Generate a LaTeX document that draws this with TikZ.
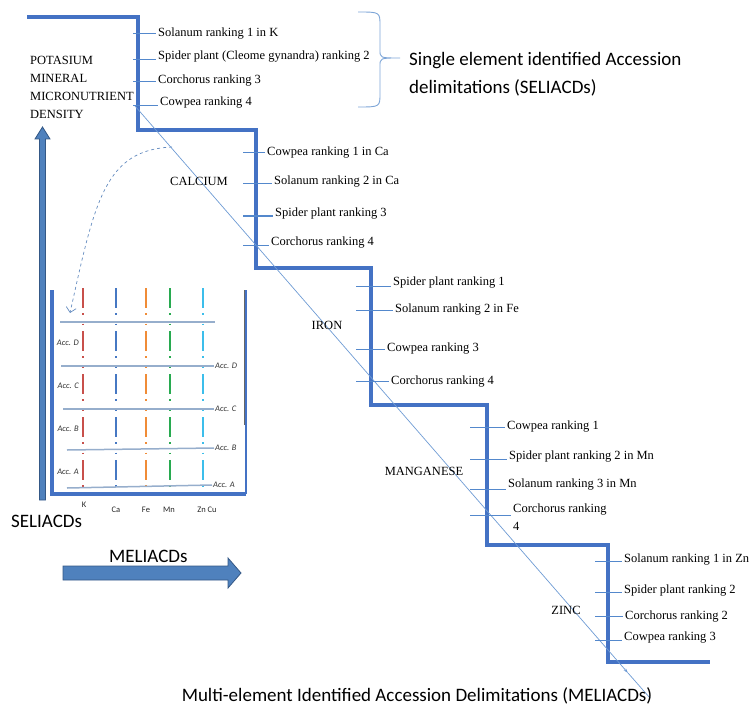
\documentclass[tikz,border=0pt]{standalone}
\usepackage{fontspec}
\setmainfont{Liberation Serif}
\newfontfamily\calibri{Carlito}
\usetikzlibrary{arrows.meta}
\definecolor{stairblue}{RGB}{68,114,196}
\definecolor{tickblue}{RGB}{84,136,204}
\definecolor{diagblue}{RGB}{110,155,212}
\definecolor{braceblue}{RGB}{125,165,215}
\definecolor{accgray}{RGB}{150,174,204}
\definecolor{arrowfill}{RGB}{79,129,189}
\definecolor{arrowedge}{RGB}{52,88,134}
\definecolor{accred}{RGB}{200,80,75}
\definecolor{accblue}{RGB}{70,120,195}
\definecolor{accorange}{RGB}{240,140,55}
\definecolor{accgreen}{RGB}{40,170,80}
\definecolor{acccyan}{RGB}{60,190,235}

\begin{document}
\begin{tikzpicture}[x=1pt,y=-1pt,
  stair/.style={stairblue,line width=3.8pt,line join=miter},
  tick/.style={tickblue,line width=1pt},
  rank/.style={anchor=west,inner sep=2pt,font=\fontsize{12.5}{18}\selectfont},
  elem/.style={inner sep=0pt,font=\fontsize{12.5}{18}\selectfont},
  big/.style={inner sep=0pt,font=\calibri\fontsize{19}{28}\selectfont},
  acc/.style={inner sep=1pt,text=black!80,font=\calibri\itshape\fontsize{8.5}{10}\selectfont},
  axis/.style={inner sep=0pt,text=black!85,font=\calibri\fontsize{8.5}{10}\selectfont},
  accline/.style={accgray,line width=1.5pt},
  elemline/.style={line width=2pt,dash pattern=on 20pt off 5pt on 1.5pt off 9pt on 1.5pt off 6pt},
  blockarrow/.style={fill=arrowfill,draw=arrowedge,line width=0.8pt}]

  \useasboundingbox (0,0) rectangle (751,711);

  % the staircase
  \draw[stair] (27,17) -- (138,17) -- (138,130) -- (256,130) -- (256,268)
    -- (371,268) -- (371,405) -- (487,405) -- (487,545) -- (608,545)
    -- (608,662) -- (710,662);

  % diagonal through the steps
  \coordinate (dstart) at (135,106);
  \coordinate (dtip) at (628,673);
  \coordinate (dend) at (650,698);
  \draw[diagblue,line width=0.7pt,-{Stealth[length=5pt,width=3pt]}] (dstart) -- (dtip);
  \draw[diagblue,line width=0.7pt] (dtip) -- (dend);

  % potassium step
  \node[elem,anchor=north west,align=left] (potasium) at (30,56)
    {POTASIUM\\MINERAL\\MICRONUTRIENT\\DENSITY};
  \foreach \n/\ty/\y/\x/\txt in {k1/34/34/156/{Solanum ranking 1 in K},
      k2/60/57/156/{Spider plant (Cleome gynandra) ranking 2},
      k3/82/81/156/{Corchorus ranking 3},
      k4/106/103/158/{Cowpea ranking 4}}{
    \node[rank] (\n) at (\x,\y) {\txt};
    \coordinate (\n-t) at (133,\ty);
    \draw[tick] (\n-t) -- (\n-t -| \n.west);
  }

  % calcium step
  \node[elem] (calcium) at (199,181) {CALCIUM};
  \foreach \n/\ty/\y/\x/\txt in {ca1/153/153/265/{Cowpea ranking 1 in Ca},
      ca2/184/182/272/{Solanum ranking 2 in Ca},
      ca3/216/214/273/{Spider plant ranking 3},
      ca4/245/243/269/{Corchorus ranking 4}}{
    \node[rank] (\n) at (\x,\y) {\txt};
    \coordinate (\n-t) at (243,\ty);
    \draw[tick] (\n-t) -- (\n-t -| \n.west);
  }

  % iron step
  \node[elem] (iron) at (327,325) {IRON};
  \foreach \n/\ty/\y/\x/\txt in {fe1/286/283/391/{Spider plant ranking 1},
      fe2/310/310/393/{Solanum ranking 2 in Fe},
      fe3/349/349/385/{Cowpea ranking 3},
      fe4/381/382/389/{Corchorus ranking 4}}{
    \node[rank] (\n) at (\x,\y) {\txt};
    \coordinate (\n-t) at (356,\ty);
    \draw[tick] (\n-t) -- (\n-t -| \n.west);
  }

  % manganese step
  \node[elem] (manganese) at (424,471) {MANGANESE};
  \foreach \n/\ty/\y/\x/\txt in {mn1/427/427/505/{Cowpea ranking 1},
      mn2/459/457/507/{Spider plant ranking 2 in Mn},
      mn3/489/485/506/{Solanum ranking 3 in Mn}}{
    \node[rank] (\n) at (\x,\y) {\txt};
    \coordinate (\n-t) at (470,\ty);
    \draw[tick] (\n-t) -- (\n-t -| \n.west);
  }
  \node[rank,anchor=north west,align=left] (mn4) at (511,502) {Corchorus ranking\\4};
  \coordinate (mn4-t) at (470,515);
  \draw[tick] (mn4-t) -- (mn4-t -| mn4.west);

  % zinc step
  \node[elem] (zinc) at (566,610) {ZINC};
  \foreach \n/\ty/\y/\x/\txt in {zn1/561/560/622/{Solanum ranking 1 in Zn},
      zn2/592/591/622/{Spider plant ranking 2},
      zn3/616/617/623/{Corchorus ranking 2},
      zn4/640/638/622/{Cowpea ranking 3}}{
    \node[rank] (\n) at (\x,\y) {\txt};
    \coordinate (\n-t) at (595,\ty);
    \draw[tick] (\n-t) -- (\n-t -| \n.west);
  }

  % brace and its label
  \draw[braceblue,line width=0.9pt] (358,12) .. controls (380,12) .. (380,26)
    -- (380,50) .. controls (380,58) .. (400,58) .. controls (380,58) .. (380,66)
    -- (380,93) .. controls (380,107) .. (358,107);
  \node[big,anchor=west,align=left] (seliacd) at (409,74)
    {Single element identified Accession\\delimitations (SELIACDs)};

  \node[big] (meliacd) at (417,696)
    {Multi-element Identified Accession Delimitations (MELIACDs)};

  % inset
  \draw[stair] (52,290) -- (52,494) -- (246,494);
  \draw[stairblue,line width=2pt] (246,494) -- (246,290);
  \draw[black!60,line width=0.8pt] (244,290) -- (244,425);

  \node[axis] (lk) at (84,505) {K};
  \node[axis] (lca) at (116,510) {Ca};
  \node[axis] (lfe) at (146,510) {Fe};
  \node[axis] (lmn) at (169,510) {Mn};
  \node[axis] (lzn) at (207,510) {Zn Cu};
  \foreach \n/\x/\c in {lk/83/accred,lca/116/accblue,lfe/146/accorange,
      lmn/170/accgreen,lzn/203/acccyan}{
    \coordinate (\n-b) at (\x,288);
    \draw[elemline,\c] (\n-b) -- ++(0,200);
  }

  \node[acc,anchor=west] (accd) at (214,366) {Acc. D};
  \node[acc,anchor=west] (accc) at (214,409) {Acc. C};
  \node[acc,anchor=west] (accb) at (214,448) {Acc. B};
  \node[acc,anchor=west] (acca) at (212,485) {Acc. A};
  \node[acc,anchor=east] (accdl) at (80,343) {Acc. D};
  \node[acc,anchor=east] (acccl) at (80,386) {Acc. C};
  \node[acc,anchor=east] (accbl) at (80,429) {Acc. B};
  \node[acc,anchor=east] (accal) at (80,472) {Acc. A};
  \draw[accline] (60,322) -- (215,322);
  \draw[accline] (61,366) -- (accd.west);
  \draw[accline] (63,409) -- (accc.west);
  \draw[accline] (67,450) -- (accb.west);
  \draw[accline] (67,488) -- (acca.west);

  % dashed link into the inset
  \coordinate (cstart) at (172,147);
  \coordinate (cend) at (70,313);
  \draw[diagblue!90!black,dashed,line width=0.7pt,-{Straight Barb[length=5pt]}]
    (cstart) .. controls (105,150) and (95,200) .. (cend);

  % axis arrows
  \draw[blockarrow] (39.5,500) -- (39.5,139) -- (35,139) -- (42.5,127)
    -- (50,139) -- (45.5,139) -- (45.5,500) -- cycle;
  \draw[blockarrow] (63,566) -- (228,566) -- (228,558) -- (241,573)
    -- (228,588) -- (228,580) -- (63,580) -- cycle;
  \node[big,anchor=west] (seli) at (11,521) {SELIACDs};
  \node[big,anchor=west] (meli) at (109,556) {MELIACDs};

\end{tikzpicture}
\end{document}
